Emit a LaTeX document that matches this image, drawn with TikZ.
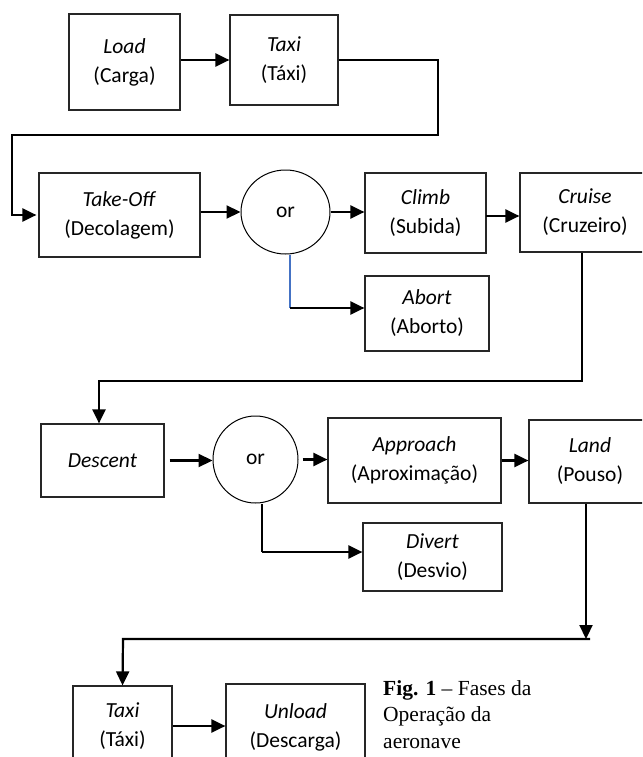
\documentclass[tikz,border=0pt]{standalone}
\usepackage{fontspec}
\setmainfont{Carlito}
\newfontfamily\capfont{Liberation Serif}
\usetikzlibrary{arrows.meta,shapes.geometric}
\definecolor{officeblue}{RGB}{68,114,196}

\begin{document}
\begin{tikzpicture}
  [
    x=1pt, y=-1pt,
    >={Triangle[length=14pt, width=13pt]},
    every node/.style = {font=\fontsize{21.5}{29}\selectfont},
    block/.style =
      {draw=black!85, line width=1.2pt, rectangle, align=center, inner sep=0pt},
    junc/.style =
      {draw, line width=1pt, ellipse, inner sep=0pt},
    link/.style = {line width=2.2pt},
    blueline/.style = {draw=officeblue, line width=1.5pt}
  ]
  \clip (0,0) rectangle (642,757);

  % first row
  \node [block, minimum width=111pt, minimum height=96pt] at (124.5,62)  (load)     {\textit{Load}\\(Carga)};
  \node [block, minimum width=108pt, minimum height=90pt] at (284,60)    (taxi)     {\textit{Taxi}\\(Táxi)};

  % second row
  \node [block, minimum width=161pt, minimum height=84pt] at (119.5,215) (takeoff)  {\textit{Take-Off}\\(Decolagem)};
  \node [junc,  minimum width=89pt,  minimum height=84pt] at (285.5,212) (or1)      {or};
  \node [block, minimum width=121pt, minimum height=80pt] at (425.5,213) (climb)    {\textit{Climb}\\(Subida)};
  \node [block, minimum width=130pt, minimum height=79pt] at (585,212.5) (cruise)   {\textit{Cruise}\\(Cruzeiro)};
  \node [block, minimum width=124pt, minimum height=75pt] at (427,313.5) (abort)    {\textit{Abort}\\(Aborto)};

  % third row
  \node [block, minimum width=123pt, minimum height=73pt] at (102.5,460.5) (descent) {\textit{Descent}};
  \node [junc,  minimum width=85pt,  minimum height=87pt] at (255.5,459.5) (or2)     {or};
  \node [block, minimum width=173pt, minimum height=85pt] at (414.5,460.5) (approach){\textit{Approach}\\(Aproximação)};
  \node [block, minimum width=122pt, minimum height=83pt] at (590,461.5)   (land)    {\textit{Land}\\(Pouso)};
  \node [block, minimum width=139pt, minimum height=68pt] at (432.5,557)   (divert)  {\textit{Divert}\\(Desvio)};

  % last row
  \node [block, minimum width=99pt,  minimum height=80pt] at (122.5,726) (taxib)    {\textit{Taxi}\\(Táxi)};
  \node [block, minimum width=139pt, minimum height=86pt] at (295.5,727) (unload)   {\textit{Unload}\\(Descarga)};
  \node [anchor=north west, align=left, inner sep=0pt,
         font=\capfont\fontsize{21.5}{26.5}\selectfont] at (383,680) (caption)
        {\textbf{Fig. 1} – Fases da\\Operação da\\aeronave};

  \coordinate (t1) at (438,135);
  \coordinate (t2) at (12,135);
  \coordinate (a1) at (290,308);
  \coordinate (c1) at (582,381);
  \coordinate (c2) at (99,381);
  \coordinate (d1) at (262,552);
  \coordinate (l1) at (586,639);
  \coordinate (l2) at (590,639);
  \coordinate (l3) at (123,639);
  \coordinate (k1) at (486,216);

  \draw[->, link] (taxi.west -| load.east) -- (taxi.west);
  \draw[->, link, shorten >=2pt] (taxi.east) -| (t1) -- (t2) |- (takeoff.west);
  \draw[->, link] (or1.west -| takeoff.east) -- (or1.west);
  \draw[->, link] (or1.east) -- (or1.east -| climb.west);
  \draw[->, link] (k1) -- (k1 -| cruise.west);
  \draw[blueline] (or1.south -| a1) -- (a1);
  \draw[->, link] (a1) -- (a1 -| abort.west);
  \draw[->, link] (cruise.south -| c1) -- (c1) -- (c2) -- (c2 |- descent.north);
  \draw[->, link, shorten <=5pt] (descent.east) -- (descent.east -| or2.west);
  \draw[->, link, shorten <=4pt] (or2.east) -- (or2.east -| approach.west);
  \draw[->, link] (approach.east) -- (approach.east -| land.west);
  \draw[link] (or2.south -| d1) -- (d1);
  \draw[->, link] (d1) -- (d1 -| divert.west);
  \draw[->, link] (land.south -| l1) -- (l1);
  \draw[->, link] (l2) -- (l3) -- (taxib.north);
  \draw[->, link] (taxib.east) -- (taxib.east -| unload.west);
\end{tikzpicture}
\end{document}
